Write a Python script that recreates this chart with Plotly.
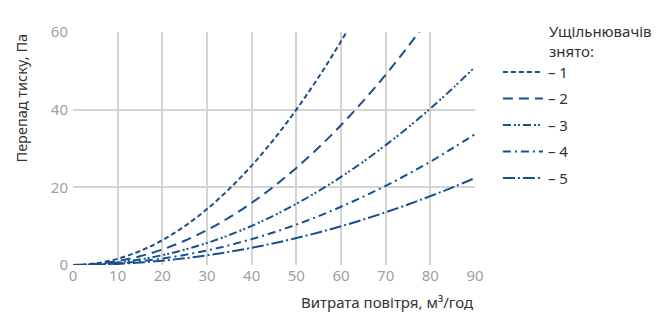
import plotly.graph_objects as go

x_vals = [0, 5, 10, 15, 20, 25, 30, 35, 40, 45, 50, 55, 60, 65, 70, 75, 80, 85, 90]
y1 = [0, 0.4, 1.6, 3.6, 6.4, 10.0, 14.4, 19.6, 25.6, 32.4, 40.0, 48.4, 57.6, 67.6]
y2 = [0, 0.25, 1.0, 2.25, 4.0, 6.25, 9.0, 12.25, 16.0, 20.25, 25.0, 30.25, 36.0, 42.25, 49.0, 56.25, 64.0]
y3 = [0, 0.16, 0.63, 1.42, 2.52, 3.94, 5.67, 7.72, 10.08, 12.76, 15.75, 19.06, 22.68, 26.6, 30.87, 35.4, 40.3, 45.5, 51.0]
y4 = [0, 0.1, 0.42, 0.94, 1.66, 2.6, 3.74, 5.1, 6.66, 8.42, 10.4, 12.6, 15.0, 17.6, 20.4, 23.4, 26.6, 30.1, 33.7]
y5 = [0, 0.07, 0.28, 0.62, 1.11, 1.73, 2.49, 3.39, 4.43, 5.61, 6.93, 8.38, 9.97, 11.7, 13.57, 15.58, 17.73, 20.0, 22.4]
series_names = ["– 1", "– 2", "– 3", "– 4", "– 5"]
x_ticks = [0, 10, 20, 30, 40, 50, 60, 70, 80, 90]
y_ticks = [0, 20, 40, 60]

color = "#1a4f8f"
dashes = [
    "5px,3px",
    "10px,6px",
    "8px,3px,2px,2px,2px,3px",
    "8px,4px,2px,4px",
    "12px,3px,2px,3px",
]
series = [y1, y2, y3, y4, y5]

fig = go.Figure()
for i, (ys, name) in enumerate(zip(series, series_names)):
    fig.add_trace(go.Scatter(
        x=x_vals[:len(ys)], y=ys, mode="lines", name=name,
        line=dict(color=color, width=2, dash=dashes[i], shape="spline"),
        legendgroup=str(i),
    ))

font_family = "Noto Sans"
txt = "#333333"
fig.update_layout(
    width=656, height=316,
    margin=dict(l=73, r=181, t=32, b=51),
    paper_bgcolor="white", plot_bgcolor="white",
    font=dict(family=font_family, size=15, color=txt),
    showlegend=True,
    legend=dict(x=1.057, xanchor="left", xref="paper", y=0.898, yanchor="top",
                tracegroupgap=4, font=dict(size=15, color=txt),
                itemwidth=40),
    xaxis=dict(range=[0, 90], tickvals=x_ticks, showgrid=True, gridcolor="#d4d4d4",
               gridwidth=1.5, zeroline=False, showline=False,
               tickfont=dict(size=15, color="#a0a0a0"), fixedrange=True),
    yaxis=dict(range=[0, 60], tickvals=y_ticks, showgrid=True, gridcolor="#d4d4d4",
               gridwidth=1.5, zeroline=False, showline=False, ticks="",
               ticklabelstandoff=4,
               tickfont=dict(size=15, color="#a0a0a0"), fixedrange=True),
)
fig.add_annotation(text="Витрата повітря, м³/год", xref="paper", yref="paper",
                   x=1.0, y=0, xanchor="right", yanchor="middle", yshift=-37,
                   showarrow=False, font=dict(size=15, color=txt))
fig.add_annotation(text="Перепад тиску, Па", xref="paper", yref="paper",
                   x=0, y=1, xshift=-53, xanchor="center", yanchor="top",
                   textangle=-90, showarrow=False, font=dict(size=14.5, color=txt))
fig.add_annotation(text="Ущільнювачів<br>знято:", xref="paper", yref="paper",
                   x=1.0, y=1, xshift=72, yshift=-9, xanchor="left", yanchor="middle",
                   align="left", showarrow=False, font=dict(size=15, color=txt))

fig.write_html("out.html")
